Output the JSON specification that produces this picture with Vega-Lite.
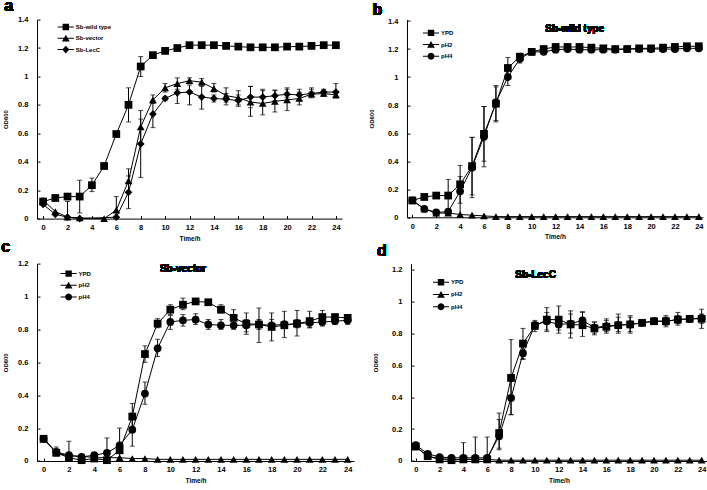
{
"$schema": "https://vega.github.io/schema/vega-lite/v6.json",
"padding": {"left": 1, "top": -2.4, "right": 0, "bottom": 0},
"background": "white",
"config": {
  "font": "Liberation Sans",
  "view": {"stroke": null},
  "axis": {"domainColor": "black", "domainWidth": 1, "tickColor": "black", "tickSize": -3, "tickWidth": 1, "labelFontSize": 7.5, "labelFontWeight": "bold", "labelColor": "black", "titleFontSize": 6.5, "titleFontWeight": "bold", "titleColor": "black", "grid": false, "labelFont": "Liberation Sans", "titleFont": "Liberation Sans", "labelOverlap": false, "labelFlush": false},
  "axisX": {"labelPadding": 8, "titlePadding": 4},
  "axisY": {"labelPadding": 12, "titlePadding": 9, "titleFontSize": 6},
  "legend": {"title": null, "orient": "none", "direction": "vertical", "symbolSize": 196, "symbolFillColor": "black", "symbolStrokeColor": "black", "symbolStrokeWidth": 0, "symbolOpacity": 1, "labelFontSize": 6, "labelFontWeight": "bold", "labelFont": "Liberation Sans", "labelColor": "black", "labelOffset": 3, "padding": 0}
},
"datasets": {
"a": [
{"s":"Sb-wild type","t":0,"od":0.12},{"s":"Sb-wild type","t":1,"od":0.145},{"s":"Sb-wild type","t":2,"od":0.155},{"s":"Sb-wild type","t":3,"od":0.155,"lo":0.04,"hi":0.27},{"s":"Sb-wild type","t":4,"od":0.235,"lo":0.19,"hi":0.285},{"s":"Sb-wild type","t":5,"od":0.37},{"s":"Sb-wild type","t":6,"od":0.595,"lo":0.58,"hi":0.61},{"s":"Sb-wild type","t":7,"od":0.8,"lo":0.68,"hi":0.92},{"s":"Sb-wild type","t":8,"od":1.07,"lo":1.0,"hi":1.14},{"s":"Sb-wild type","t":9,"od":1.15},{"s":"Sb-wild type","t":10,"od":1.18},{"s":"Sb-wild type","t":11,"od":1.2},{"s":"Sb-wild type","t":12,"od":1.22},{"s":"Sb-wild type","t":13,"od":1.22},{"s":"Sb-wild type","t":14,"od":1.22},{"s":"Sb-wild type","t":15,"od":1.215},{"s":"Sb-wild type","t":16,"od":1.21},{"s":"Sb-wild type","t":17,"od":1.205},{"s":"Sb-wild type","t":18,"od":1.205},{"s":"Sb-wild type","t":19,"od":1.205},{"s":"Sb-wild type","t":20,"od":1.21},{"s":"Sb-wild type","t":21,"od":1.21},{"s":"Sb-wild type","t":22,"od":1.215},{"s":"Sb-wild type","t":23,"od":1.22},{"s":"Sb-wild type","t":24,"od":1.22},
{"s":"Sb-vector","t":0,"od":0.13},{"s":"Sb-vector","t":1,"od":0.05},{"s":"Sb-vector","t":2,"od":0.01,"lo":0,"hi":0.12},{"s":"Sb-vector","t":3,"od":0.005},{"s":"Sb-vector","t":5,"od":0.0},{"s":"Sb-vector","t":6,"od":0.06,"lo":0,"hi":0.155},{"s":"Sb-vector","t":7,"od":0.265,"lo":0.18,"hi":0.35},{"s":"Sb-vector","t":8,"od":0.645,"lo":0.53,"hi":0.76},{"s":"Sb-vector","t":9,"od":0.835,"lo":0.81,"hi":0.87},{"s":"Sb-vector","t":10,"od":0.92,"lo":0.89,"hi":0.95},{"s":"Sb-vector","t":11,"od":0.95,"lo":0.91,"hi":0.99},{"s":"Sb-vector","t":12,"od":0.97,"lo":0.95,"hi":0.99},{"s":"Sb-vector","t":13,"od":0.96,"lo":0.93,"hi":0.985},{"s":"Sb-vector","t":14,"od":0.915,"lo":0.89,"hi":0.95},{"s":"Sb-vector","t":15,"od":0.865,"lo":0.82,"hi":0.92},{"s":"Sb-vector","t":16,"od":0.85,"lo":0.8,"hi":0.9},{"s":"Sb-vector","t":17,"od":0.82,"lo":0.72,"hi":0.93},{"s":"Sb-vector","t":18,"od":0.81,"lo":0.73,"hi":0.9},{"s":"Sb-vector","t":19,"od":0.825,"lo":0.75,"hi":0.905},{"s":"Sb-vector","t":20,"od":0.835,"lo":0.76,"hi":0.91},{"s":"Sb-vector","t":21,"od":0.845,"lo":0.8,"hi":0.89},{"s":"Sb-vector","t":22,"od":0.875,"lo":0.85,"hi":0.91},{"s":"Sb-vector","t":23,"od":0.88,"lo":0.86,"hi":0.9},{"s":"Sb-vector","t":24,"od":0.87,"lo":0.85,"hi":0.89},
{"s":"Sb-LecC","t":0,"od":0.1},{"s":"Sb-LecC","t":1,"od":0.03},{"s":"Sb-LecC","t":2,"od":0.01},{"s":"Sb-LecC","t":3,"od":0.0},{"s":"Sb-LecC","t":6,"od":0.01},{"s":"Sb-LecC","t":7,"od":0.185,"lo":0.07,"hi":0.3},{"s":"Sb-LecC","t":8,"od":0.525,"lo":0.29,"hi":0.7},{"s":"Sb-LecC","t":9,"od":0.735,"lo":0.64,"hi":0.83},{"s":"Sb-LecC","t":10,"od":0.845,"lo":0.83,"hi":0.86},{"s":"Sb-LecC","t":11,"od":0.885,"lo":0.81,"hi":0.93},{"s":"Sb-LecC","t":12,"od":0.89,"lo":0.8,"hi":0.94},{"s":"Sb-LecC","t":13,"od":0.855,"lo":0.77,"hi":0.94},{"s":"Sb-LecC","t":14,"od":0.845,"lo":0.82,"hi":0.87},{"s":"Sb-LecC","t":15,"od":0.84,"lo":0.8,"hi":0.88},{"s":"Sb-LecC","t":16,"od":0.83,"lo":0.79,"hi":0.87},{"s":"Sb-LecC","t":17,"od":0.855,"lo":0.78,"hi":0.93},{"s":"Sb-LecC","t":18,"od":0.855,"lo":0.8,"hi":0.91},{"s":"Sb-LecC","t":19,"od":0.865,"lo":0.83,"hi":0.9},{"s":"Sb-LecC","t":20,"od":0.875,"lo":0.85,"hi":0.92},{"s":"Sb-LecC","t":21,"od":0.87,"lo":0.84,"hi":0.91},{"s":"Sb-LecC","t":22,"od":0.88,"lo":0.86,"hi":0.92},{"s":"Sb-LecC","t":23,"od":0.89,"lo":0.87,"hi":0.91},{"s":"Sb-LecC","t":24,"od":0.89,"lo":0.85,"hi":0.95}
],
"b": [
{"s":"YPD","t":0,"od":0.12},{"s":"YPD","t":1,"od":0.145},{"s":"YPD","t":2,"od":0.155},{"s":"YPD","t":3,"od":0.155,"lo":0.04,"hi":0.27},{"s":"YPD","t":4,"od":0.235,"lo":0.1,"hi":0.37},{"s":"YPD","t":5,"od":0.365,"lo":0.16,"hi":0.57},{"s":"YPD","t":6,"od":0.595,"lo":0.4,"hi":0.79},{"s":"YPD","t":7,"od":0.81,"lo":0.68,"hi":0.93},{"s":"YPD","t":8,"od":1.065,"lo":0.99,"hi":1.14},{"s":"YPD","t":9,"od":1.145,"lo":1.12,"hi":1.17},{"s":"YPD","t":10,"od":1.18},{"s":"YPD","t":11,"od":1.2},{"s":"YPD","t":12,"od":1.215},{"s":"YPD","t":13,"od":1.215},{"s":"YPD","t":14,"od":1.215},{"s":"YPD","t":15,"od":1.21},{"s":"YPD","t":16,"od":1.205},{"s":"YPD","t":17,"od":1.2},{"s":"YPD","t":18,"od":1.2},{"s":"YPD","t":19,"od":1.205},{"s":"YPD","t":20,"od":1.205},{"s":"YPD","t":21,"od":1.21},{"s":"YPD","t":22,"od":1.215},{"s":"YPD","t":23,"od":1.22},{"s":"YPD","t":24,"od":1.22},
{"s":"pH2","t":0,"od":0.12},{"s":"pH2","t":1,"od":0.06},{"s":"pH2","t":2,"od":0.03},{"s":"pH2","t":3,"od":0.03},{"s":"pH2","t":4,"od":0.02},{"s":"pH2","t":5,"od":0.015},{"s":"pH2","t":6,"od":0.01},{"s":"pH2","t":7,"od":0.005},{"s":"pH2","t":8,"od":0.005},{"s":"pH2","t":9,"od":0.005},{"s":"pH2","t":10,"od":0.005},{"s":"pH2","t":11,"od":0.005},{"s":"pH2","t":12,"od":0.005},{"s":"pH2","t":13,"od":0.005},{"s":"pH2","t":14,"od":0.005},{"s":"pH2","t":15,"od":0.005},{"s":"pH2","t":16,"od":0.005},{"s":"pH2","t":17,"od":0.005},{"s":"pH2","t":18,"od":0.005},{"s":"pH2","t":19,"od":0.005},{"s":"pH2","t":20,"od":0.005},{"s":"pH2","t":21,"od":0.005},{"s":"pH2","t":22,"od":0.005},{"s":"pH2","t":23,"od":0.005},{"s":"pH2","t":24,"od":0.005},
{"s":"pH4","t":0,"od":0.12},{"s":"pH4","t":1,"od":0.06},{"s":"pH4","t":2,"od":0.035},{"s":"pH4","t":3,"od":0.04},{"s":"pH4","t":4,"od":0.185,"lo":0.0,"hi":0.29},{"s":"pH4","t":5,"od":0.355,"lo":0.14,"hi":0.57},{"s":"pH4","t":6,"od":0.575,"lo":0.36,"hi":0.79},{"s":"pH4","t":7,"od":0.82,"lo":0.69,"hi":0.94},{"s":"pH4","t":8,"od":1.0,"lo":0.94,"hi":1.06},{"s":"pH4","t":9,"od":1.13,"lo":1.1,"hi":1.16},{"s":"pH4","t":10,"od":1.18},{"s":"pH4","t":11,"od":1.18},{"s":"pH4","t":12,"od":1.195},{"s":"pH4","t":13,"od":1.2},{"s":"pH4","t":14,"od":1.195},{"s":"pH4","t":15,"od":1.195},{"s":"pH4","t":16,"od":1.195},{"s":"pH4","t":17,"od":1.195},{"s":"pH4","t":18,"od":1.2},{"s":"pH4","t":19,"od":1.2},{"s":"pH4","t":20,"od":1.2},{"s":"pH4","t":21,"od":1.2},{"s":"pH4","t":22,"od":1.2},{"s":"pH4","t":23,"od":1.205},{"s":"pH4","t":24,"od":1.205}
],
"c": [
{"s":"YPD","t":0,"od":0.135},{"s":"YPD","t":1,"od":0.05},{"s":"YPD","t":2,"od":0.02,"lo":0,"hi":0.12},{"s":"YPD","t":3,"od":0.005},{"s":"YPD","t":4,"od":0.015},{"s":"YPD","t":5,"od":0.005},{"s":"YPD","t":6,"od":0.065},{"s":"YPD","t":7,"od":0.27,"lo":0.19,"hi":0.35},{"s":"YPD","t":8,"od":0.65,"lo":0.6,"hi":0.7},{"s":"YPD","t":9,"od":0.835,"lo":0.81,"hi":0.865},{"s":"YPD","t":10,"od":0.92,"lo":0.89,"hi":0.95},{"s":"YPD","t":11,"od":0.95,"lo":0.92,"hi":0.99},{"s":"YPD","t":12,"od":0.97},{"s":"YPD","t":13,"od":0.965,"lo":0.95,"hi":0.98},{"s":"YPD","t":14,"od":0.92,"lo":0.9,"hi":0.95},{"s":"YPD","t":15,"od":0.87,"lo":0.83,"hi":0.92},{"s":"YPD","t":16,"od":0.835,"lo":0.77,"hi":0.9},{"s":"YPD","t":17,"od":0.83,"lo":0.72,"hi":0.93},{"s":"YPD","t":18,"od":0.815,"lo":0.73,"hi":0.9},{"s":"YPD","t":19,"od":0.825,"lo":0.75,"hi":0.91},{"s":"YPD","t":20,"od":0.835,"lo":0.76,"hi":0.915},{"s":"YPD","t":21,"od":0.85,"lo":0.81,"hi":0.91},{"s":"YPD","t":22,"od":0.875,"lo":0.85,"hi":0.915},{"s":"YPD","t":23,"od":0.875,"lo":0.86,"hi":0.89},{"s":"YPD","t":24,"od":0.87,"lo":0.85,"hi":0.89},
{"s":"pH2","t":0,"od":0.135},{"s":"pH2","t":1,"od":0.05},{"s":"pH2","t":2,"od":0.03},{"s":"pH2","t":3,"od":0.03},{"s":"pH2","t":4,"od":0.02},{"s":"pH2","t":5,"od":0.02},{"s":"pH2","t":6,"od":0.02},{"s":"pH2","t":7,"od":0.015},{"s":"pH2","t":8,"od":0.015},{"s":"pH2","t":9,"od":0.01},{"s":"pH2","t":10,"od":0.01},{"s":"pH2","t":11,"od":0.01},{"s":"pH2","t":12,"od":0.01},{"s":"pH2","t":13,"od":0.01},{"s":"pH2","t":14,"od":0.01},{"s":"pH2","t":15,"od":0.01},{"s":"pH2","t":16,"od":0.01},{"s":"pH2","t":17,"od":0.01},{"s":"pH2","t":18,"od":0.01},{"s":"pH2","t":19,"od":0.01},{"s":"pH2","t":20,"od":0.01},{"s":"pH2","t":21,"od":0.01},{"s":"pH2","t":22,"od":0.01},{"s":"pH2","t":23,"od":0.01},{"s":"pH2","t":24,"od":0.01},
{"s":"pH4","t":0,"od":0.135},{"s":"pH4","t":1,"od":0.055,"lo":0.03,"hi":0.085},{"s":"pH4","t":2,"od":0.035},{"s":"pH4","t":3,"od":0.025},{"s":"pH4","t":4,"od":0.035},{"s":"pH4","t":5,"od":0.05,"lo":0,"hi":0.14},{"s":"pH4","t":6,"od":0.095,"lo":0,"hi":0.2},{"s":"pH4","t":7,"od":0.19,"lo":0.09,"hi":0.29},{"s":"pH4","t":8,"od":0.41,"lo":0.345,"hi":0.48},{"s":"pH4","t":9,"od":0.685,"lo":0.635,"hi":0.74},{"s":"pH4","t":10,"od":0.845,"lo":0.8,"hi":0.885},{"s":"pH4","t":11,"od":0.855,"lo":0.82,"hi":0.89},{"s":"pH4","t":12,"od":0.86,"lo":0.83,"hi":0.895},{"s":"pH4","t":13,"od":0.83,"lo":0.8,"hi":0.86},{"s":"pH4","t":14,"od":0.825,"lo":0.8,"hi":0.86},{"s":"pH4","t":15,"od":0.825,"lo":0.8,"hi":0.86},{"s":"pH4","t":16,"od":0.825,"lo":0.785,"hi":0.86},{"s":"pH4","t":17,"od":0.83,"lo":0.8,"hi":0.86},{"s":"pH4","t":18,"od":0.825,"lo":0.8,"hi":0.86},{"s":"pH4","t":19,"od":0.83,"lo":0.81,"hi":0.85},{"s":"pH4","t":20,"od":0.835,"lo":0.81,"hi":0.86},{"s":"pH4","t":21,"od":0.84,"lo":0.81,"hi":0.87},{"s":"pH4","t":22,"od":0.845,"lo":0.82,"hi":0.87},{"s":"pH4","t":23,"od":0.85},{"s":"pH4","t":24,"od":0.855,"lo":0.83,"hi":0.88}
],
"d": [
{"s":"YPD","t":0,"od":0.09},{"s":"YPD","t":1,"od":0.03},{"s":"YPD","t":2,"od":0.01},{"s":"YPD","t":3,"od":0.005},{"s":"YPD","t":4,"od":0.01},{"s":"YPD","t":5,"od":0.01},{"s":"YPD","t":6,"od":0.01},{"s":"YPD","t":7,"od":0.175,"lo":0.07,"hi":0.3},{"s":"YPD","t":8,"od":0.52,"lo":0.29,"hi":0.76},{"s":"YPD","t":9,"od":0.735,"lo":0.64,"hi":0.83},{"s":"YPD","t":10,"od":0.845,"lo":0.81,"hi":0.88},{"s":"YPD","t":11,"od":0.885,"lo":0.81,"hi":0.96},{"s":"YPD","t":12,"od":0.885,"lo":0.8,"hi":0.97},{"s":"YPD","t":13,"od":0.855,"lo":0.77,"hi":0.94},{"s":"YPD","t":14,"od":0.85,"lo":0.78,"hi":0.93},{"s":"YPD","t":15,"od":0.83,"lo":0.8,"hi":0.87},{"s":"YPD","t":16,"od":0.84,"lo":0.8,"hi":0.88},{"s":"YPD","t":17,"od":0.85,"lo":0.8,"hi":0.92},{"s":"YPD","t":18,"od":0.855,"lo":0.8,"hi":0.91},{"s":"YPD","t":19,"od":0.865,"lo":0.85,"hi":0.88},{"s":"YPD","t":20,"od":0.875,"lo":0.86,"hi":0.89},{"s":"YPD","t":21,"od":0.875,"lo":0.84,"hi":0.91},{"s":"YPD","t":22,"od":0.885,"lo":0.85,"hi":0.93},{"s":"YPD","t":23,"od":0.89,"lo":0.87,"hi":0.91},{"s":"YPD","t":24,"od":0.89,"lo":0.83,"hi":0.95},
{"s":"pH2","t":0,"od":0.09},{"s":"pH2","t":1,"od":0.03},{"s":"pH2","t":2,"od":0.015},{"s":"pH2","t":3,"od":0.01},{"s":"pH2","t":4,"od":0.01},{"s":"pH2","t":5,"od":0.01},{"s":"pH2","t":6,"od":0.01},{"s":"pH2","t":7,"od":0.005},{"s":"pH2","t":8,"od":0.005},{"s":"pH2","t":9,"od":0.005},{"s":"pH2","t":10,"od":0.005},{"s":"pH2","t":11,"od":0.005},{"s":"pH2","t":12,"od":0.005},{"s":"pH2","t":13,"od":0.005},{"s":"pH2","t":14,"od":0.005},{"s":"pH2","t":15,"od":0.005},{"s":"pH2","t":16,"od":0.005},{"s":"pH2","t":17,"od":0.005},{"s":"pH2","t":18,"od":0.005},{"s":"pH2","t":19,"od":0.005},{"s":"pH2","t":20,"od":0.005},{"s":"pH2","t":21,"od":0.005},{"s":"pH2","t":22,"od":0.005},{"s":"pH2","t":23,"od":0.005},{"s":"pH2","t":24,"od":0.005},
{"s":"pH4","t":0,"od":0.1},{"s":"pH4","t":1,"od":0.045},{"s":"pH4","t":2,"od":0.025},{"s":"pH4","t":3,"od":0.02},{"s":"pH4","t":4,"od":0.02,"lo":0,"hi":0.115},{"s":"pH4","t":5,"od":0.02,"lo":0,"hi":0.15},{"s":"pH4","t":6,"od":0.02,"lo":0,"hi":0.15},{"s":"pH4","t":7,"od":0.155,"lo":0.08,"hi":0.26},{"s":"pH4","t":8,"od":0.395,"lo":0.29,"hi":0.5},{"s":"pH4","t":9,"od":0.675,"lo":0.635,"hi":0.72},{"s":"pH4","t":10,"od":0.85,"lo":0.83,"hi":0.87},{"s":"pH4","t":11,"od":0.875,"lo":0.82,"hi":0.93},{"s":"pH4","t":12,"od":0.855,"lo":0.82,"hi":0.89},{"s":"pH4","t":13,"od":0.86,"lo":0.8,"hi":0.92},{"s":"pH4","t":14,"od":0.88,"lo":0.83,"hi":0.935},{"s":"pH4","t":15,"od":0.835,"lo":0.79,"hi":0.87},{"s":"pH4","t":16,"od":0.845,"lo":0.81,"hi":0.89},{"s":"pH4","t":17,"od":0.85,"lo":0.81,"hi":0.9},{"s":"pH4","t":18,"od":0.855,"lo":0.81,"hi":0.9},{"s":"pH4","t":19,"od":0.865,"lo":0.85,"hi":0.88},{"s":"pH4","t":20,"od":0.875,"lo":0.86,"hi":0.89},{"s":"pH4","t":21,"od":0.875,"lo":0.85,"hi":0.9},{"s":"pH4","t":22,"od":0.885,"lo":0.86,"hi":0.91},{"s":"pH4","t":23,"od":0.89,"lo":0.88,"hi":0.9},{"s":"pH4","t":24,"od":0.895,"lo":0.86,"hi":0.92}
]
},
"spacing": -3,
"vconcat": [
{
"spacing": 26,
"resolve": {"scale": {"x": "independent", "y": "independent", "shape": "independent"}, "legend": {"shape": "independent"}},
"hconcat": [
{
  "width": 305, "height": 199,
  "data": {"name": "a"},
  "encoding": {
    "x": {"field": "t", "type": "quantitative", "title": "Time/h", "scale": {"domain": [-0.5, 24.5], "nice": false, "zero": false}, "axis": {"values": [0,2,4,6,8,10,12,14,16,18,20,22,24]}},
    "y": {"field": "od", "type": "quantitative", "title": "OD600", "scale": {"domain": [0, 1.4], "nice": false}, "axis": {"values": [0,0.2,0.4,0.6,0.8,1,1.2,1.4], "format": ".1~f"}}
  },
  "layer": [
    {"transform": [{"filter": "isValid(datum.lo)"}], "mark": {"type": "errorbar", "ticks": {"size": 5, "color": "black"}, "rule": {"color": "black"}, "color": "black"}, "encoding": {"y": {"field": "lo", "type": "quantitative", "title": "OD600"}, "y2": {"field": "hi"}}},
    {"mark": {"type": "line", "color": "black", "strokeWidth": 1}, "encoding": {"detail": {"field": "s"}}},
    {"mark": {"type": "point", "filled": true, "color": "black", "opacity": 1, "size": 60}, "encoding": {"shape": {"field": "s", "type": "nominal", "scale": {"domain": ["Sb-wild type","Sb-vector","Sb-LecC"], "range": ["square","triangle-up","diamond"]}, "legend": null}}},
    {"transform": [{"filter": "false"}], "mark": {"type": "point", "filled": true, "color": "black", "opacity": 1}, "encoding": {"shape": {"field": "s", "type": "nominal", "scale": {"domain": ["Sb-wild type","Sb-vector","Sb-LecC"], "range": ["M-1.15,-0.07H1.15V0.07H-1.15ZM-0.46,-0.46H0.46V0.46H-0.46Z","M-1.15,-0.07H1.15V0.07H-1.15ZM0,-0.5L0.55,0.45H-0.55Z","M-1.15,-0.07H1.15V0.07H-1.15ZM0,-0.55L0.5,0L0,0.55L-0.5,0Z"]}, "legend": {"legendX": 21.8, "legendY": 0.4, "rowPadding": 0.3}}}},
    {"mark": {"type": "text", "fontSize": 16, "fontWeight": "bold", "color": "black", "align": "left", "baseline": "alphabetic"}, "encoding": {"x": {"datum": -3.18}, "y": {"datum": 1.4584}, "text": {"value": "a"}}}
  ],
  "resolve": {"scale": {"shape": "independent"}}
},
{
  "width": 296, "height": 197.7,
  "data": {"name": "b"},
  "encoding": {
    "x": {"field": "t", "type": "quantitative", "title": "Time/h", "scale": {"domain": [-0.45, 24.35], "nice": false, "zero": false}, "axis": {"values": [0,2,4,6,8,10,12,14,16,18,20,22,24]}},
    "y": {"field": "od", "type": "quantitative", "title": "OD600", "scale": {"domain": [0, 1.41], "nice": false}, "axis": {"values": [0,0.2,0.4,0.6,0.8,1,1.2,1.4], "format": ".1~f", "titlePadding": 13}}
  },
  "layer": [
    {"transform": [{"filter": "isValid(datum.lo)"}], "mark": {"type": "errorbar", "ticks": {"size": 5, "color": "black"}, "rule": {"color": "black"}, "color": "black"}, "encoding": {"y": {"field": "lo", "type": "quantitative", "title": "OD600"}, "y2": {"field": "hi"}}},
    {"mark": {"type": "line", "color": "black", "strokeWidth": 1}, "encoding": {"detail": {"field": "s"}}},
    {"mark": {"type": "point", "filled": true, "color": "black", "opacity": 1, "size": 60}, "encoding": {"shape": {"field": "s", "type": "nominal", "scale": {"domain": ["YPD","pH2","pH4"], "range": ["square","triangle-up","circle"]}, "legend": null}}},
    {"transform": [{"filter": "false"}], "mark": {"type": "point", "filled": true, "color": "black", "opacity": 1}, "encoding": {"shape": {"field": "s", "type": "nominal", "scale": {"domain": ["YPD","pH2","pH4"], "range": ["M-1.15,-0.07H1.15V0.07H-1.15ZM-0.46,-0.46H0.46V0.46H-0.46Z","M-1.15,-0.07H1.15V0.07H-1.15ZM0,-0.5L0.55,0.45H-0.55Z","M-1.15,-0.07H1.15V0.07H-1.15ZM0.5,0L0.433,0.25L0.25,0.433L0,0.5L-0.25,0.433L-0.433,0.25L-0.5,0L-0.433,-0.25L-0.25,-0.433L0,-0.5L0.25,-0.433L0.433,-0.25Z"]}, "legend": {"legendX": 17, "legendY": 6.3, "rowPadding": 0.7}}}},
    {"mark": {"type": "text", "fontSize": 10, "fontWeight": "bold", "color": "black"}, "encoding": {"x": {"datum": 13.6}, "y": {"datum": 1.34}, "text": {"value": "Sb-wild type"}}},
    {"mark": {"type": "text", "fontSize": 16, "fontWeight": "bold", "color": "black", "align": "left", "baseline": "alphabetic"}, "encoding": {"x": {"datum": -3.35}, "y": {"datum": 1.4407}, "text": {"value": "b"}}}
  ],
  "resolve": {"scale": {"shape": "independent"}}
}
]
},
{
"spacing": 18,
"resolve": {"scale": {"x": "independent", "y": "independent", "shape": "independent"}, "legend": {"shape": "independent"}},
"hconcat": [
{
  "width": 317, "height": 197.4,
  "data": {"name": "c"},
  "encoding": {
    "x": {"field": "t", "type": "quantitative", "title": "Time/h", "scale": {"domain": [-0.52, 24.5], "nice": false, "zero": false}, "axis": {"values": [0,2,4,6,8,10,12,14,16,18,20,22,24]}},
    "y": {"field": "od", "type": "quantitative", "title": "OD600", "scale": {"domain": [0, 1.2], "nice": false}, "axis": {"values": [0,0.2,0.4,0.6,0.8,1,1.2], "format": ".1~f"}}
  },
  "layer": [
    {"transform": [{"filter": "isValid(datum.lo)"}], "mark": {"type": "errorbar", "ticks": {"size": 5, "color": "black"}, "rule": {"color": "black"}, "color": "black"}, "encoding": {"y": {"field": "lo", "type": "quantitative", "title": "OD600"}, "y2": {"field": "hi"}}},
    {"mark": {"type": "line", "color": "black", "strokeWidth": 1}, "encoding": {"detail": {"field": "s"}}},
    {"mark": {"type": "point", "filled": true, "color": "black", "opacity": 1, "size": 60}, "encoding": {"shape": {"field": "s", "type": "nominal", "scale": {"domain": ["YPD","pH2","pH4"], "range": ["square","triangle-up","circle"]}, "legend": null}}},
    {"transform": [{"filter": "false"}], "mark": {"type": "point", "filled": true, "color": "black", "opacity": 1}, "encoding": {"shape": {"field": "s", "type": "nominal", "scale": {"domain": ["YPD","pH2","pH4"], "range": ["M-1.15,-0.07H1.15V0.07H-1.15ZM-0.46,-0.46H0.46V0.46H-0.46Z","M-1.15,-0.07H1.15V0.07H-1.15ZM0,-0.5L0.55,0.45H-0.55Z","M-1.15,-0.07H1.15V0.07H-1.15ZM0.5,0L0.433,0.25L0.25,0.433L0,0.5L-0.25,0.433L-0.433,0.25L-0.5,0L-0.433,-0.25L-0.25,-0.433L0,-0.5L0.25,-0.433L0.433,-0.25Z"]}, "legend": {"legendX": 24.6, "legendY": 3, "rowPadding": 0.7}}}},
    {"mark": {"type": "text", "fontSize": 10, "fontWeight": "bold", "color": "black"}, "encoding": {"x": {"datum": 11.0}, "y": {"datum": 1.167}, "text": {"value": "Sb-vector"}}},
    {"mark": {"type": "text", "fontSize": 16, "fontWeight": "bold", "color": "black", "align": "left", "baseline": "alphabetic"}, "encoding": {"x": {"datum": -3.34}, "y": {"datum": 1.269}, "text": {"value": "c"}}}
  ],
  "resolve": {"scale": {"shape": "independent"}}
},
{
  "width": 296, "height": 197.4,
  "data": {"name": "d"},
  "encoding": {
    "x": {"field": "t", "type": "quantitative", "title": "Time/h", "scale": {"domain": [-0.4, 24.45], "nice": false, "zero": false}, "axis": {"values": [0,2,4,6,8,10,12,14,16,18,20,22,24]}},
    "y": {"field": "od", "type": "quantitative", "title": "OD600", "scale": {"domain": [0, 1.2357], "nice": false}, "axis": {"values": [0,0.2,0.4,0.6,0.8,1,1.2], "format": ".1~f", "titlePadding": 13}}
  },
  "layer": [
    {"transform": [{"filter": "isValid(datum.lo)"}], "mark": {"type": "errorbar", "ticks": {"size": 5, "color": "black"}, "rule": {"color": "black"}, "color": "black"}, "encoding": {"y": {"field": "lo", "type": "quantitative", "title": "OD600"}, "y2": {"field": "hi"}}},
    {"mark": {"type": "line", "color": "black", "strokeWidth": 1}, "encoding": {"detail": {"field": "s"}}},
    {"mark": {"type": "point", "filled": true, "color": "black", "opacity": 1, "size": 60}, "encoding": {"shape": {"field": "s", "type": "nominal", "scale": {"domain": ["YPD","pH2","pH4"], "range": ["square","triangle-up","circle"]}, "legend": null}}},
    {"transform": [{"filter": "false"}], "mark": {"type": "point", "filled": true, "color": "black", "opacity": 1}, "encoding": {"shape": {"field": "s", "type": "nominal", "scale": {"domain": ["YPD","pH2","pH4"], "range": ["M-1.15,-0.07H1.15V0.07H-1.15ZM-0.46,-0.46H0.46V0.46H-0.46Z","M-1.15,-0.07H1.15V0.07H-1.15ZM0,-0.5L0.55,0.45H-0.55Z","M-1.15,-0.07H1.15V0.07H-1.15ZM0.5,0L0.433,0.25L0.25,0.433L0,0.5L-0.25,0.433L-0.433,0.25L-0.5,0L-0.433,-0.25L-0.25,-0.433L0,-0.5L0.25,-0.433L0.433,-0.25Z"]}, "legend": {"legendX": 23, "legendY": 11.7, "rowPadding": 1.2}}}},
    {"mark": {"type": "text", "fontSize": 10, "fontWeight": "bold", "color": "black"}, "encoding": {"x": {"datum": 10.06}, "y": {"datum": 1.164}, "text": {"value": "Sb-LecC"}}},
    {"mark": {"type": "text", "fontSize": 16, "fontWeight": "bold", "color": "black", "align": "left", "baseline": "alphabetic"}, "encoding": {"x": {"datum": -3.25}, "y": {"datum": 1.283}, "text": {"value": "d"}}}
  ],
  "resolve": {"scale": {"shape": "independent"}}
}
]
}
],
"resolve": {"scale": {"x": "independent", "y": "independent", "shape": "independent"}, "legend": {"shape": "independent"}}
}
